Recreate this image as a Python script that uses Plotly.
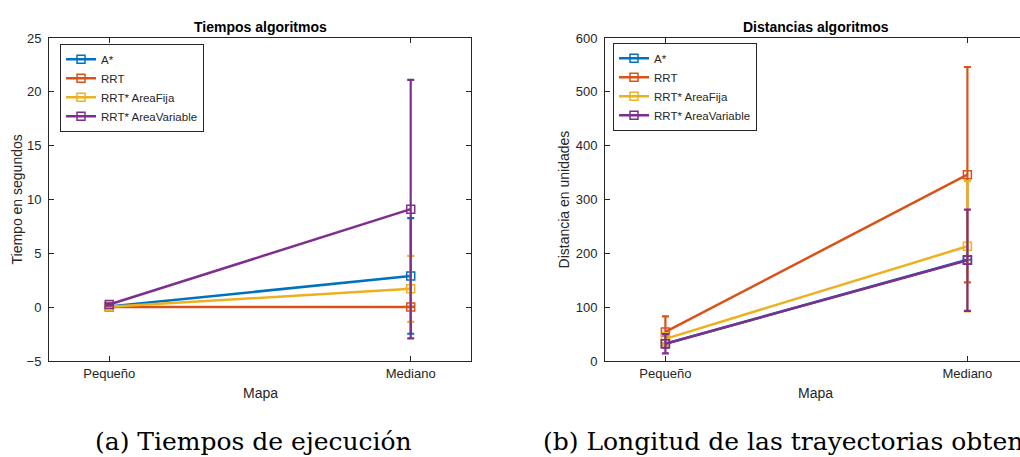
import plotly.graph_objects as go

# ---- data ----
mapas = ["Pequeño", "Mediano"]
map_pos = [1, 2]
algoritmos = ["A*", "RRT", "RRT* AreaFija", "RRT* AreaVariable"]
colores = ["#0072BD", "#D95319", "#EDB120", "#7E2F8E"]

tiempo_astar = [0.05, 2.9]
tiempo_rrt = [0.01, 0.02]
tiempo_fija = [0.03, 1.7]
tiempo_variable = [0.25, 9.1]
err_tiempo_astar = [0.02, 5.37]
err_tiempo_rrt = [0.005, 0.02]
err_tiempo_fija = [0.02, 3.07]
err_tiempo_variable = [0.1, 12.0]

dist_astar = [32, 188]
dist_rrt = [54, 346]
dist_fija = [41, 213]
dist_variable = [32, 187]
err_dist_astar = [0, 0]
err_dist_rrt = [29, 200]
err_dist_fija = [11, 121]
err_dist_variable = [18, 94]

tiempo_ticks = [-5, 0, 5, 10, 15, 20, 25]
dist_ticks = [0, 100, 200, 300, 400, 500, 600]

W, H = 1020, 457
def px(x):
    return x / W
def py(y):
    return 1 - y / H

FONT = "Liberation Sans, Arial, sans-serif"
TXT = "#262626"

fig = go.Figure()

tiempos = [tiempo_astar, tiempo_rrt, tiempo_fija, tiempo_variable]
err_t = [err_tiempo_astar, err_tiempo_rrt, err_tiempo_fija, err_tiempo_variable]
dists = [dist_astar, dist_rrt, dist_fija, dist_variable]
err_d = [err_dist_astar, err_dist_rrt, err_dist_fija, err_dist_variable]

def add_series(vals_list, errs_list, xa, ya, leg):
    for name, col, vals, errs in zip(algoritmos, colores, vals_list, errs_list):
        fig.add_trace(go.Scatter(
            x=map_pos, y=vals, name=name, mode="lines+markers",
            line=dict(color=col, width=2.5),
            marker=dict(symbol="square-open", size=8, color=col, line=dict(width=1.5, color=col)),
            error_y=dict(type="data", array=errs, visible=True, color=col, thickness=2.2, width=3.5),
            xaxis=xa, yaxis=ya, legend=leg,
        ))

add_series(tiempos, err_t, "x", "y", "legend")
add_series(dists, err_d, "x2", "y2", "legend2")

axis_common = dict(
    showgrid=False, zeroline=False, showline=True, linecolor=TXT, linewidth=1,
    ticks="inside", ticklen=5, tickcolor=TXT, tickwidth=1,
    tickfont=dict(family=FONT, size=13, color=TXT),
)

# left axes: x 49..471, y 32..366 px ; right axes: x 605..1027 (cropped at 1020)
x2_end = 0.8 + (1020 - 605) / 302.0

legend_common = dict(xanchor="left", yanchor="top", bgcolor="white", bordercolor=TXT,
                     borderwidth=1, font=dict(family=FONT, size=11.5, color=TXT),
                     tracegroupgap=0, itemwidth=30)

fig.update_layout(
    width=W, height=H,
    margin=dict(l=0, r=0, t=0, b=0),
    paper_bgcolor="white", plot_bgcolor="white",
    font=dict(family=FONT, color=TXT),
    xaxis=dict(domain=[px(49), px(471)], range=[0.8, 2.2], tickvals=map_pos, ticktext=mapas,
               mirror="allticks", anchor="y", **axis_common),
    yaxis=dict(domain=[py(366), py(32)], range=[-5, 25], tickvals=tiempo_ticks,
               mirror="allticks", anchor="x", ticklabelstandoff=4, **axis_common),
    xaxis2=dict(domain=[px(605), 1.0], range=[0.8, x2_end], tickvals=map_pos, ticktext=mapas,
                mirror="allticks", anchor="y2", **axis_common),
    yaxis2=dict(domain=[py(366), py(32)], range=[0, 600], tickvals=dist_ticks,
                mirror=False, anchor="x2", ticklabelstandoff=4, **axis_common),
    legend=dict(x=px(60), y=py(38), **legend_common),
    legend2=dict(x=px(613), y=py(37), **legend_common),
    showlegend=True,
)

ann = []
ann.append(dict(text="Tiempos algoritmos", x=px(260), y=py(21), font=dict(family=FONT, size=14, color="black", weight="bold")))
ann.append(dict(text="Distancias algoritmos", x=px(816), y=py(21), font=dict(family=FONT, size=14, color="black", weight="bold")))
ann.append(dict(text="Mapa", x=px(260), y=py(399), font=dict(family=FONT, size=14, color=TXT)))
ann.append(dict(text="Mapa", x=px(815), y=py(399), font=dict(family=FONT, size=14, color=TXT)))
ann.append(dict(text="Tiempo en segundos", x=px(17), y=py(199), textangle=-90, font=dict(family=FONT, size=14, color=TXT)))
ann.append(dict(text="Distancia en unidades", x=px(564), y=py(199), textangle=-90, font=dict(family=FONT, size=14, color=TXT)))
ann.append(dict(text="(a) Tiempos de ejecución", x=px(93), y=py(449), xanchor="left",
                font=dict(family="DejaVu Serif, serif", size=25, color="black")))
ann.append(dict(text="(b) Longitud de las trayectorias obtenidas", x=px(541), y=py(449), xanchor="left",
                font=dict(family="DejaVu Serif, serif", size=25, color="black")))
for a in ann:
    a.setdefault("xanchor", "center")
    a.update(xref="paper", yref="paper", yanchor="middle", showarrow=False)
fig.update_layout(annotations=ann)

fig.write_html(
    "out.html",
    config={"displayModeBar": False},
    post_script="document.body.style.margin='0';document.body.style.overflow='hidden';",
)
